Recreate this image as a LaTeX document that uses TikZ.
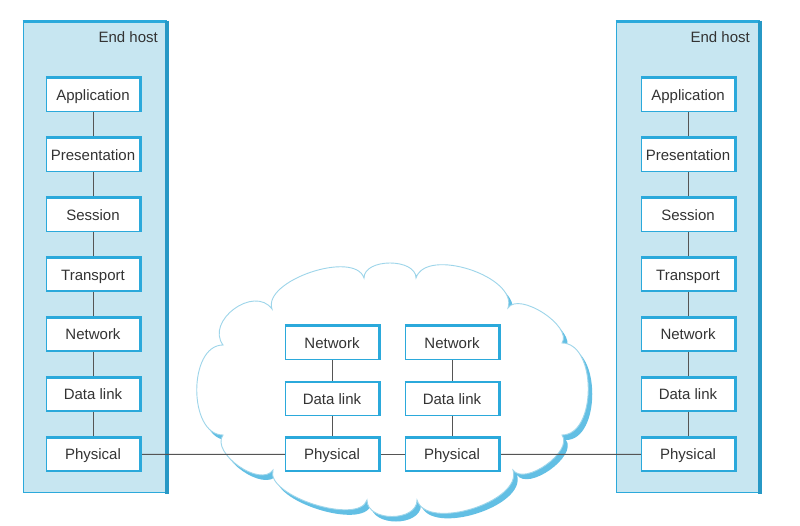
\documentclass[tikz,border=0pt]{standalone}
\usepackage{fontspec}
\setmainfont{Liberation Sans}
\definecolor{hostfill}{HTML}{C7E6F1}
\definecolor{edgeblue}{HTML}{2BA9DB}
\definecolor{cloudline}{HTML}{9DD5EA}
\definecolor{cloudshadow}{HTML}{62BFE4}
\definecolor{txt}{HTML}{333333}
\definecolor{wirecol}{HTML}{555555}
\begin{document}
\begin{tikzpicture}[x=1pt,y=1pt,
  hostbox/.style={draw=edgeblue, line width=1.6pt, fill=hostfill, minimum width=143pt, minimum height=470pt, inner sep=0pt},
  layer/.style={draw=edgeblue, line width=1.4pt, fill=white, minimum width=93pt, minimum height=33pt, inner sep=0pt, text height=10.7pt, text depth=0pt, text=txt, font=\fontsize{15}{18}\selectfont},
  thickedge/.style={draw=edgeblue, line width=2.6pt},
  hostedge/.style={draw=edgeblue!90!black, line width=4pt},
  wire/.style={draw=wirecol, line width=0.9pt},
  hostlbl/.style={text=txt, font=\fontsize{15}{18}\selectfont, anchor=east, inner sep=0pt}]
\useasboundingbox (0,0) rectangle (800,-526);
\fill[white] (0,0) rectangle (800,-526);

% end hosts
\node[hostbox] (hostL) at (95,-257.5) {};
\node[hostbox] (hostR) at (688,-257.5) {};
\foreach \h in {hostL,hostR}{
  \draw[edgeblue, line width=3pt] (\h.north west) -- (\h.north east);
  \draw[hostedge] ([yshift=1pt]\h.north east) -- ([yshift=-0.8pt]\h.south east);
}
\node[hostlbl] (lblL) at (158,-37) {End host};
\node[hostlbl] (lblR) at (750,-37) {End host};

% cloud shadow and cloud
\def\cloudpath{(223,-345) .. controls (205.2,-320.8) and (254.2,-284.8) .. (272,-309)
  .. controls (262.4,-280.6) and (354.4,-249.6) .. (364,-278)
  .. controls (364,-258) and (416,-258) .. (416,-278)
  .. controls (426.2,-246.6) and (518.2,-276.6) .. (508,-308)
  .. controls (518.9,-291.2) and (572.9,-326.2) .. (562,-343)
  .. controls (597,-343) and (597,-435) .. (562,-435)
  .. controls (573.6,-451.3) and (524.6,-486.3) .. (513,-470)
  .. controls (522.8,-501.5) and (426.8,-531.5) .. (417,-500)
  .. controls (417,-522) and (367,-522) .. (367,-500)
  .. controls (358.8,-525.7) and (264.8,-495.7) .. (273,-470)
  .. controls (260.4,-488) and (210.4,-453) .. (223,-435)
  .. controls (188,-435) and (188,-345) .. (223,-345) -- cycle}
\fill[cloudshadow, xshift=4pt, yshift=-5pt] \cloudpath;
\filldraw[fill=white, draw=cloudline, line width=0.9pt] \cloudpath;

% layers of end hosts
\foreach \t [count=\i from 0] in {Application,Presentation,Session,Transport,Network,Data link,Physical}{
  \node[layer] (L\i) at (93,{-95-59.9*\i}) {\t};
  \node[layer] (R\i) at (688,{-95-59.9*\i}) {\t};
}
% layers in the network
\node[layer] (A1) at (332,-343) {Network};
\node[layer] (A2) at (332,-399) {Data link};
\node[layer] (A3) at (332,-454.4) {Physical};
\node[layer] (B1) at (452,-343) {Network};
\node[layer] (B2) at (452,-399) {Data link};
\node[layer] (B3) at (452,-454.4) {Physical};

% connectors
\foreach \a/\b in {0/1,1/2,2/3,3/4,4/5,5/6}{
  \draw[wire] (L\a) -- (L\b);
  \draw[wire] (R\a) -- (R\b);
}
\draw[wire] (A1) -- (A2);
\draw[wire] (A2) -- (A3);
\draw[wire] (B1) -- (B2);
\draw[wire] (B2) -- (B3);
\draw[wire] (L6) -- (A3);
\draw[wire] (A3) -- (B3);
\draw[wire] (B3) -- (R6);

% thicker top and right edges of the layer boxes
\foreach \n in {L0,L1,L2,L3,L4,L5,L6,R0,R1,R2,R3,R4,R5,R6,A1,A2,A3,B1,B2,B3}{
  \draw[thickedge] (\n.north west) -- (\n.north east) -- (\n.south east);
}
\end{tikzpicture}
\end{document}
